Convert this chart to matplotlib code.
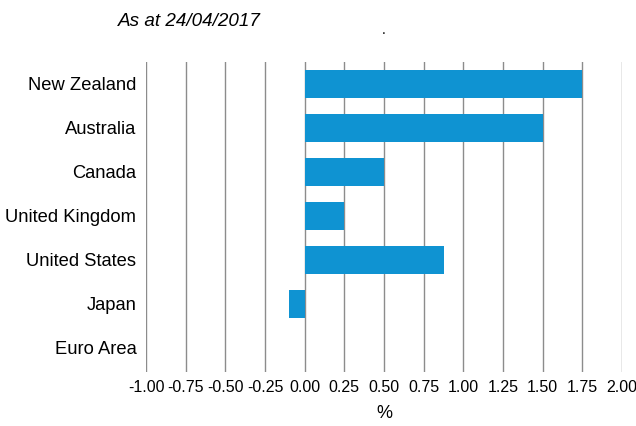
import matplotlib
matplotlib.use("Agg")
import matplotlib.pyplot as plt
import numpy as np

countries = ["New Zealand", "Australia", "Canada", "United Kingdom",
             "United States", "Japan", "Euro Area"]
rates = [1.75, 1.50, 0.50, 0.25, 0.875, -0.10, 0.00]
xticks = np.arange(-1.0, 2.01, 0.25)

plt.rcParams['font.family'] = ['Liberation Sans', 'DejaVu Sans']

fig = plt.figure(figsize=(6.36, 4.26), dpi=100)
ax = fig.add_axes([0.2296, 0.1268, 0.7484, 0.7277])

y = np.arange(len(countries))
ax.barh(y, rates, height=0.64, color='#0f93d2', zorder=3)

ax.set_xlim(-1.0, 2.0)
ax.set_ylim(6.55, -0.5)
ax.set_xticks(xticks)
ax.set_xticklabels([f"{v:.2f}" for v in xticks], fontsize=11.5)
ax.set_yticks(y)
ax.set_yticklabels(countries, fontsize=13.2)
ax.tick_params(axis='x', length=0, pad=6)
ax.tick_params(axis='y', length=0, pad=7)
ax.grid(axis='x', color='#8c8c8c', linewidth=1.0, zorder=0)
for s in ax.spines.values():
    s.set_visible(False)

ax.set_xlabel('%', fontsize=13, labelpad=7)

fig.text(118 / 636, 1 - 21 / 426, 'As at 24/04/2017', fontsize=13.6,
         style='italic', va='center', ha='left')
fig.text(384 / 636, 1 - 30 / 426, '.', fontsize=10, va='center', ha='center')

fig.savefig('out.png', dpi=100)
